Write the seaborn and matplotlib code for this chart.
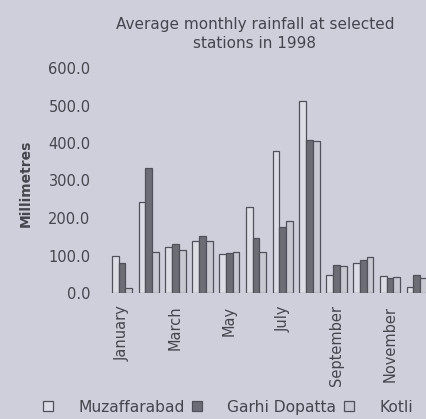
import pandas as pd
import numpy as np
import matplotlib
matplotlib.use('Agg')
import matplotlib.pyplot as plt
from matplotlib.patches import Patch
import seaborn as sns

sns.set_style('white')
plt.rcParams['font.family'] = ['DejaVu Sans']

# data (mm)
months = ['January', 'February', 'March', 'April', 'May', 'June', 'July',
          'August', 'September', 'October', 'November', 'December']
muzaffarabad = [100, 244, 122, 138, 103, 230, 378, 512, 48, 81, 46, 17]
garhi_dopatta = [80, 334, 130, 151, 108, 146, 175, 407, 74, 87, 41, 48]
kotli = [13, 109, 116, 140, 109, 109, 193, 405, 72, 96, 43, 40]
stations = ['Muzaffarabad', 'Garhi Dopatta', 'Kotli']
tick_months = ['January', '', 'March', '', 'May', '', 'July', '',
               'September', '', 'November', '']

df = pd.DataFrame({'month': months * 3,
                   'station': np.repeat(stations, len(months)),
                   'rain': muzaffarabad + garhi_dopatta + kotli})

bg = '#cfcfdc'
txt = '#45454d'
faces = ['#dcdce6', '#6c6c77', '#c6c6d2']
edge = '#50505b'

fig = plt.figure(figsize=(4.27, 4.19), dpi=100, facecolor=bg)
ax = fig.add_axes([108.6 / 427, 1 - 293 / 419, 321.6 / 427, 225 / 419])
ax.set_facecolor(bg)

sns.barplot(data=df, x='month', y='rain', hue='station', order=months,
            hue_order=stations, palette=faces, width=0.76, gap=0,
            edgecolor=edge, linewidth=0.9, ax=ax)
ax.get_legend().remove()

ax.set_xlim(-0.5, 11.5)
ax.set_ylim(0, 600)
ax.set_yticks(np.arange(0, 601, 100))
ax.set_yticklabels([f'{v:.1f}' for v in range(0, 601, 100)], fontsize=10.5, color=txt)
ax.set_xticks(range(len(months)))
ax.set_xticklabels(tick_months, rotation=90, fontsize=10.5, color=txt, va='top')
ax.tick_params(axis='both', length=0)
ax.tick_params(axis='y', pad=13)
ax.tick_params(axis='x', pad=9)
ax.set_xlabel('')
ax.set_ylabel('')
for s in ax.spines.values():
    s.set_visible(False)

fig.text(26 / 427, 1 - 183 / 419, 'Millimetres', rotation=90, fontsize=10,
         fontweight='bold', color=txt, ha='center', va='center')
fig.text(255 / 427, 1 - 34 / 419,
         'Average monthly rainfall at selected\nstations in 1998',
         fontsize=11, color=txt, ha='center', va='center', linespacing=1.35)

handles = [Patch(facecolor=f, edgecolor=edge, linewidth=0.9) for f in faces]
fig.legend(handles, stations, loc='center', ncol=3,
           bbox_to_anchor=(228 / 427, 1 - 407 / 419), frameon=False,
           fontsize=11.2, labelcolor=txt, handlelength=0.65, handleheight=0.65,
           handletextpad=1.6, columnspacing=0.5)

fig.savefig('out.png', dpi=100, facecolor=bg)
